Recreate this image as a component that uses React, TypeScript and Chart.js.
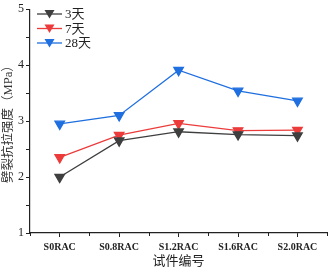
import React, { useEffect, useRef } from "react";
import { Chart, registerables } from "chart.js";

Chart.register(...registerables);

const categories = ["S0RAC", "S0.8RAC", "S1.2RAC", "S1.6RAC", "S2.0RAC"];
const seriesNames = ["3天", "7天", "28天"];
const day3 = [2.0, 2.65, 2.81, 2.76, 2.74];
const day7 = [2.35, 2.75, 2.96, 2.83, 2.84];
const day28 = [2.95, 3.1, 3.91, 3.54, 3.36];
const colors = ["#3f3f3f", "#ec3b3b", "#1f6fe0"];
const yTicks = [1, 2, 3, 4, 5];

const serif = "'Times New Roman', 'Liberation Serif', 'Noto Sans CJK SC', serif";

const legendPlugin = {
  id: "customLegend",
  afterDraw(chart: any) {
    const ctx = chart.ctx;
    ctx.save();
    // minor x ticks at category boundaries
    const xs = chart.scales.x;
    const n = categories.length;
    const w = (xs.right - xs.left) / n;
    ctx.strokeStyle = "#222";
    ctx.lineWidth = 1;
    for (let i = 0; i <= n; i++) {
      const x = Math.round(xs.left + i * w) + 0.5;
      ctx.beginPath();
      ctx.moveTo(x, xs.top);
      ctx.lineTo(x, xs.top + 3);
      ctx.stroke();
    }
    chart.data.datasets.forEach((ds: any, i: number) => {
      const y = 14 + i * 14.5;
      ctx.strokeStyle = ds.borderColor;
      ctx.lineWidth = 1.3;
      ctx.beginPath();
      ctx.moveTo(37, y);
      ctx.lineTo(62, y);
      ctx.stroke();
      ctx.fillStyle = ds.borderColor;
      ctx.beginPath();
      ctx.moveTo(44.5, y - 4);
      ctx.lineTo(54.5, y - 4);
      ctx.lineTo(49.5, y + 4.5);
      ctx.closePath();
      ctx.fill();
      ctx.fillStyle = "#222";
      ctx.font = "13px " + serif;
      ctx.textBaseline = "middle";
      ctx.textAlign = "left";
      ctx.fillText(ds.label, 65, y + 1);
    });
    ctx.restore();
  },
};

export default function App() {
  const ref = useRef<HTMLCanvasElement>(null);
  useEffect(() => {
    document.body.style.margin = "0";
    const mk = (label: string, data: number[], color: string) => ({
      label,
      data,
      borderColor: color,
      backgroundColor: color,
      borderWidth: 1.3,
      pointStyle: "triangle" as const,
      rotation: 180,
      pointRadius: 5.5,
      pointHoverRadius: 5.5,
      tension: 0,
    });
    const chart = new Chart(ref.current!, {
      type: "line",
      data: {
        labels: categories,
        datasets: [
          mk(seriesNames[0], day3, colors[0]),
          mk(seriesNames[1], day7, colors[1]),
          mk(seriesNames[2], day28, colors[2]),
        ],
      },
      options: {
        animation: false,
        responsive: false,
        layout: { padding: { left: 0, right: 2, top: 6, bottom: 0 } },
        plugins: {
          legend: { display: false },
          tooltip: { enabled: false },
        },
        scales: {
          x: {
            offset: true,
            grid: {
              display: true,
              drawOnChartArea: false,
              drawTicks: true,
              tickLength: 4,
              color: "#222",
              offset: false,
            },
            border: { display: true, color: "#222", width: 1.2 },
            ticks: {
              color: "#222",
              font: { family: serif, size: 10, weight: "bold" },
              padding: 4,
              maxRotation: 0,
              autoSkip: false,
            },
            title: {
              display: true,
              text: "试件编号",
              color: "#222",
              font: { family: serif, size: 13 },
              padding: { top: 3, bottom: 0 },
            },
            afterFit(scale: any) {
              scale.height = 36;
            },
          },
          y: {
            min: 1,
            max: 5,
            afterBuildTicks(scale: any) {
              const t: any[] = [];
              for (let v = 1; v <= 5.001; v += 0.5) t.push({ value: v });
              scale.ticks = t;
            },
            grid: {
              display: true,
              drawOnChartArea: false,
              drawTicks: true,
              tickLength: 4,
              color: "#222",
            },
            border: { display: true, color: "#222", width: 1.2 },
            ticks: {
              color: "#222",
              font: { family: serif, size: 12 },
              padding: 2,
              callback: (v: any) => (yTicks.includes(Number(v)) ? String(v) : ""),
            },
            title: {
              display: true,
              text: "劈裂抗拉强度（MPa）",
              color: "#333",
              font: { family: serif, size: 12.5 },
              padding: { top: 1, bottom: 0 },
            },
            afterFit(scale: any) {
              scale.width = 30;
            },
          },
        },
      },
      plugins: [legendPlugin],
    });
    return () => chart.destroy();
  }, []);
  return (
    <div style={{ position: "fixed", left: 0, top: 0, width: 334, height: 269, background: "#fff" }}>
      <canvas ref={ref} width={334} height={269} style={{ width: 334, height: 269 }} />
    </div>
  );
}
